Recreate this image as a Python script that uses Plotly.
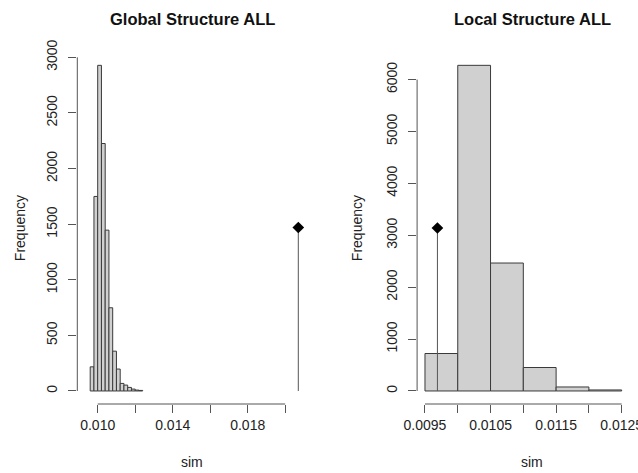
import plotly.graph_objects as go

# ---------------- data ----------------
# Global Structure ALL: histogram bins (width 0.0002) and counts
global_bin_left = [0.0096, 0.0098, 0.0100, 0.0102, 0.0104, 0.0106, 0.0108,
                   0.0110, 0.0112, 0.0114, 0.0116, 0.0118, 0.0120, 0.0122]
global_counts = [217, 1749, 2928, 2225, 1446, 748, 358, 197, 68, 53, 32, 17, 8, 5]
global_bin_width = 0.0002
global_obs_x = 0.0207
global_obs_y = 1470

# Local Structure ALL: histogram bins (width 0.0005) and counts
local_bin_left = [0.0095, 0.0100, 0.0105, 0.0110, 0.0115, 0.0120]
local_counts = [722, 6274, 2465, 452, 77, 20]
local_bin_width = 0.0005
local_obs_x = 0.00969
local_obs_y = 3140

# axis ticks
global_xticks = [0.010, 0.012, 0.014, 0.016, 0.018, 0.020]
global_xtick_text = ["0.010", "", "0.014", "", "0.018", ""]
global_yticks = [0, 500, 1000, 1500, 2000, 2500, 3000]
local_xticks = [0.0095, 0.0100, 0.0105, 0.0110, 0.0115, 0.0120, 0.0125]
local_xtick_text = ["0.0095", "", "0.0105", "", "0.0115", "", "0.0125"]
local_yticks = [0, 1000, 2000, 3000, 4000, 5000, 6000]

titles = ["Global Structure ALL", "Local Structure ALL"]
xlabel = "sim"
ylabel = "Frequency"

# ---------------- layout geometry ----------------
W, H = 638, 473
FONT = "Liberation Sans, Arial, Helvetica, sans-serif"
AX = "#555555"
left_px = (77.3, 306.8)
right_px = (417.1, 638.0)
top_px, bot_px = 52.3, 404.0

fig = go.Figure()

def add_hist(bin_left, counts, width, xa, ya):
    centers = [b + width / 2 for b in bin_left]
    fig.add_trace(go.Bar(
        x=centers, y=counts, width=[width] * len(counts),
        marker=dict(color="#D0D0D0", line=dict(color="#3a3a3a", width=1)),
        xaxis=xa, yaxis=ya, hoverinfo="x+y"))

def add_obs(ox, oy, xa, ya):
    fig.add_trace(go.Scatter(
        x=[ox, ox], y=[0, oy], mode="lines",
        line=dict(color="#555555", width=1), xaxis=xa, yaxis=ya))
    fig.add_trace(go.Scatter(
        x=[ox], y=[oy], mode="markers",
        marker=dict(symbol="diamond", size=9, color="black"),
        xaxis=xa, yaxis=ya))

add_hist(global_bin_left, global_counts, global_bin_width, "x", "y")
add_obs(global_obs_x, global_obs_y, "x", "y")
add_hist(local_bin_left, local_counts, local_bin_width, "x2", "y2")
add_obs(local_obs_x, local_obs_y, "x2", "y2")

# ranges (R style 4% padding)
g_ymax = max(global_counts)
l_ymax = max(local_counts)

common_axis = dict(showgrid=False, zeroline=False, showline=False,
                   ticks="outside", ticklen=8, tickwidth=1, tickcolor=AX,
                   ticklabeloverflow="allow", automargin=False,
                   tickfont=dict(family=FONT, size=14, color="#222222"))

ydom = [1 - bot_px / H, 1 - top_px / H]
fig.update_layout(
    template="none", autosize=False,
    width=W, height=H, margin=dict(l=0, r=0, t=0, b=0, pad=0),
    paper_bgcolor="white", plot_bgcolor="white", showlegend=False,
    xaxis=dict(domain=[left_px[0] / W, left_px[1] / W],
               range=[0.008912, 0.021153], anchor="y",
               tickvals=global_xticks, ticktext=global_xtick_text, **common_axis),
    yaxis=dict(domain=ydom, range=[-0.04 * g_ymax, 1.04 * g_ymax], anchor="x",
               tickvals=global_yticks, ticktext=[str(v) for v in global_yticks],
               tickangle=-90, ticklabelstandoff=6, **common_axis),
    xaxis2=dict(domain=[right_px[0] / W, right_px[1] / W],
                range=[0.00938, 0.012749], anchor="y2",
                tickvals=local_xticks, ticktext=local_xtick_text, **common_axis),
    yaxis2=dict(domain=ydom, range=[-0.04 * l_ymax, 1.04 * l_ymax], anchor="x2",
                tickvals=local_yticks, ticktext=[str(v) for v in local_yticks],
                tickangle=-90, ticklabelstandoff=6, **common_axis),
)

# R-style axis lines spanning first..last tick
shapes = []
for xa, ya, xt, yt in [("x", "y", global_xticks, global_yticks),
                       ("x2", "y2", local_xticks, local_yticks)]:
    shapes.append(dict(type="line", xref=xa, yref=ya + " domain",
                       x0=xt[0], x1=xt[-1], y0=0, y1=0,
                       line=dict(color=AX, width=1)))
    shapes.append(dict(type="line", xref=xa + " domain", yref=ya,
                       x0=0, x1=0, y0=yt[0], y1=yt[-1],
                       line=dict(color=AX, width=1)))
fig.update_layout(shapes=shapes)

# titles and axis labels
anns = []
title_cx = [(left_px[0] + left_px[1]) / 2, 532.0]
ylab_x = [20.0, 357.0]
for i in range(2):
    anns.append(dict(text="<b>%s</b>" % titles[i], x=title_cx[i] / W, y=1 - 18.5 / H,
                     xref="paper", yref="paper", showarrow=False,
                     xanchor="center", yanchor="middle",
                     font=dict(family=FONT, size=16.5, color="#111111")))
    anns.append(dict(text=xlabel, x=title_cx[i] / W, y=1 - 462 / H,
                     xref="paper", yref="paper", showarrow=False,
                     xanchor="center", yanchor="middle",
                     font=dict(family=FONT, size=14, color="#222222")))
    anns.append(dict(text=ylabel, x=ylab_x[i] / W, y=1 - ((top_px + bot_px) / 2) / H,
                     xref="paper", yref="paper", showarrow=False, textangle=-90,
                     xanchor="center", yanchor="middle",
                     font=dict(family=FONT, size=14, color="#222222")))
fig.update_layout(annotations=anns)

fig.write_html("out.html")
